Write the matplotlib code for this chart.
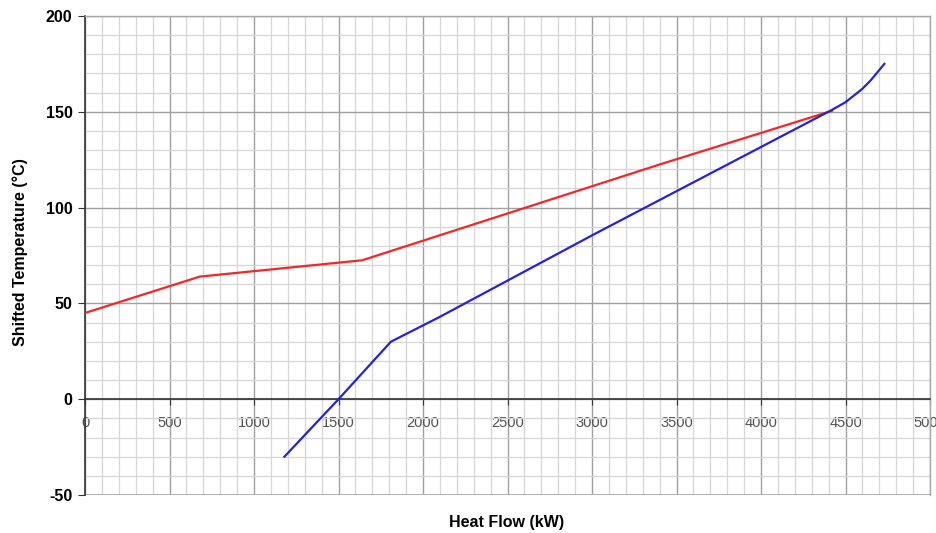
import numpy as np
import matplotlib.pyplot as plt
from matplotlib.ticker import MultipleLocator

# hot composite curve (shifted)
hot_q = [0, 680, 1640, 3400, 4420]
hot_t = [45, 64, 72.5, 122.5, 150.5]

# cold composite curve (shifted)
cold_q = [1180, 1500, 1810, 2100, 3000, 4420, 4500, 4600, 4650, 4730]
cold_t = [-30, 0, 30, 43, 85.5, 151, 155, 162, 166.5, 175]

x_ticks = [0, 500, 1000, 1500, 2000, 2500, 3000, 3500, 4000, 4500, 5000]
y_ticks = [-50, 0, 50, 100, 150, 200]

plt.rcParams["font.family"] = ["Liberation Sans", "DejaVu Sans"]
plt.rcParams["axes.unicode_minus"] = False

fig = plt.figure(figsize=(9.36, 5.33), dpi=100)
ax = fig.add_axes([85 / 936, 1 - 495 / 533, 845 / 936, 479 / 533])

ax.set_xlim(0, 5000)
ax.set_ylim(-50, 200)

# grid: minor every 100 kW / 10 C, major every 500 kW / 50 C
ax.xaxis.set_minor_locator(MultipleLocator(100))
ax.yaxis.set_minor_locator(MultipleLocator(10))
ax.set_xticks(x_ticks)
ax.set_yticks(y_ticks)
ax.grid(which="minor", color="#d6d6d6", linewidth=0.9)
ax.grid(which="major", color="#a0a0a0", linewidth=1.0)
ax.set_axisbelow(True)
ax.tick_params(which="minor", length=0)

ax.plot(hot_q, hot_t, color="#f02828", linewidth=1.6, zorder=3)
ax.plot(cold_q, cold_t, color="#2323dc", linewidth=1.6, zorder=3)

# spines: x axis sits on T = 0
ax.spines["bottom"].set_position(("data", 0))
ax.spines["bottom"].set_color("#333333")
ax.spines["bottom"].set_linewidth(1.2)
ax.spines["left"].set_color("#333333")
ax.spines["left"].set_linewidth(1.2)
for s in ["top", "right"]:
    ax.spines[s].set_color("#a8a8a8")
    ax.spines[s].set_linewidth(1.0)

# bottom edge of the frame at -50
ax.axhline(-50, color="#a8a8a8", linewidth=1.2, zorder=2)

ax.tick_params(axis="x", length=4, direction="out", color="#333333",
               labelsize=10.5, labelcolor="#505050", pad=8)
ax.tick_params(axis="y", length=5, direction="out", color="#333333",
               labelsize=11.5, pad=4)
for lbl in ax.get_yticklabels():
    lbl.set_fontweight("bold")

fig.text(507 / 936, 1 - 522 / 533, "Heat Flow (kW)", ha="center", va="center",
         fontsize=11.5, fontweight="bold")
fig.text(20 / 936, 1 - 252 / 533, "Shifted Temperature (°C)", ha="center",
         va="center", rotation=90, fontsize=11.5, fontweight="bold")

fig.savefig("out.png", dpi=100)
